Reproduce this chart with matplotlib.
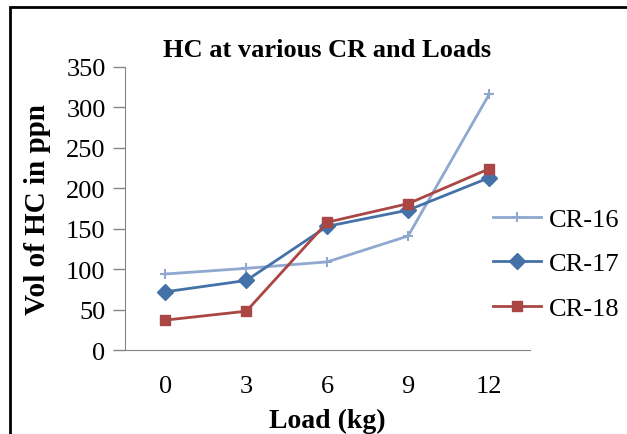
import matplotlib
matplotlib.use("Agg")
import matplotlib.pyplot as plt
from matplotlib.patches import Rectangle

# data
loads = ["0", "3", "6", "9", "12"]
cr16 = [94, 101, 109, 141, 316]
cr17 = [72, 86, 153, 173, 213]
cr18 = [37, 48, 158, 181, 224]

plt.rcParams['font.family'] = ['Liberation Serif', 'DejaVu Serif']

fig = plt.figure(figsize=(6.27, 4.35), dpi=100)
ax = fig.add_axes([0.1994, 0.1931, 0.6451, 0.6506])

x = range(len(loads))
ax.plot(x, cr16, color='#8EA8D0', lw=2, marker='+', ms=7, mew=1.5, label='CR-16')
ax.plot(x, cr17, color='#4472A8', lw=2, marker='D', ms=8, label='CR-17')
ax.plot(x, cr18, color='#AA4643', lw=2, marker='s', ms=7, label='CR-18')

ax.set_xlim(-0.5, len(loads) - 0.5)
ax.set_ylim(0, 350)
ax.set_yticks(range(0, 351, 50))
ax.set_xticks(list(x))
ax.set_xticklabels(loads)

for s in ['top', 'right']:
    ax.spines[s].set_visible(False)
for s in ['left', 'bottom']:
    ax.spines[s].set_color('#868686')
ax.tick_params(axis='y', colors='#868686', labelcolor='black', labelsize=19, length=9, width=1, pad=5)
ax.tick_params(axis='x', length=0, labelsize=19, pad=18)

ax.set_xlabel('Load (kg)', fontsize=20, fontweight='bold', labelpad=8)
ax.set_ylabel('Vol of HC in ppn', fontsize=21, fontweight='bold', labelpad=11)
ax.set_title('HC at various CR and Loads', fontsize=19, fontweight='bold', pad=8)

ax.legend(loc='center left', bbox_to_anchor=(0.91, 0.305), frameon=False, fontsize=19,
          handlelength=1.8, handletextpad=0.3, labelspacing=0.8,
          borderpad=0, borderaxespad=0)

# black frame around the chart area
fig.patches.append(Rectangle((10 / 627, -0.1), 1.2, 1.1 - 8 / 435, transform=fig.transFigure,
                             fill=False, edgecolor='black', lw=2))

fig.savefig('out.png', dpi=100)
